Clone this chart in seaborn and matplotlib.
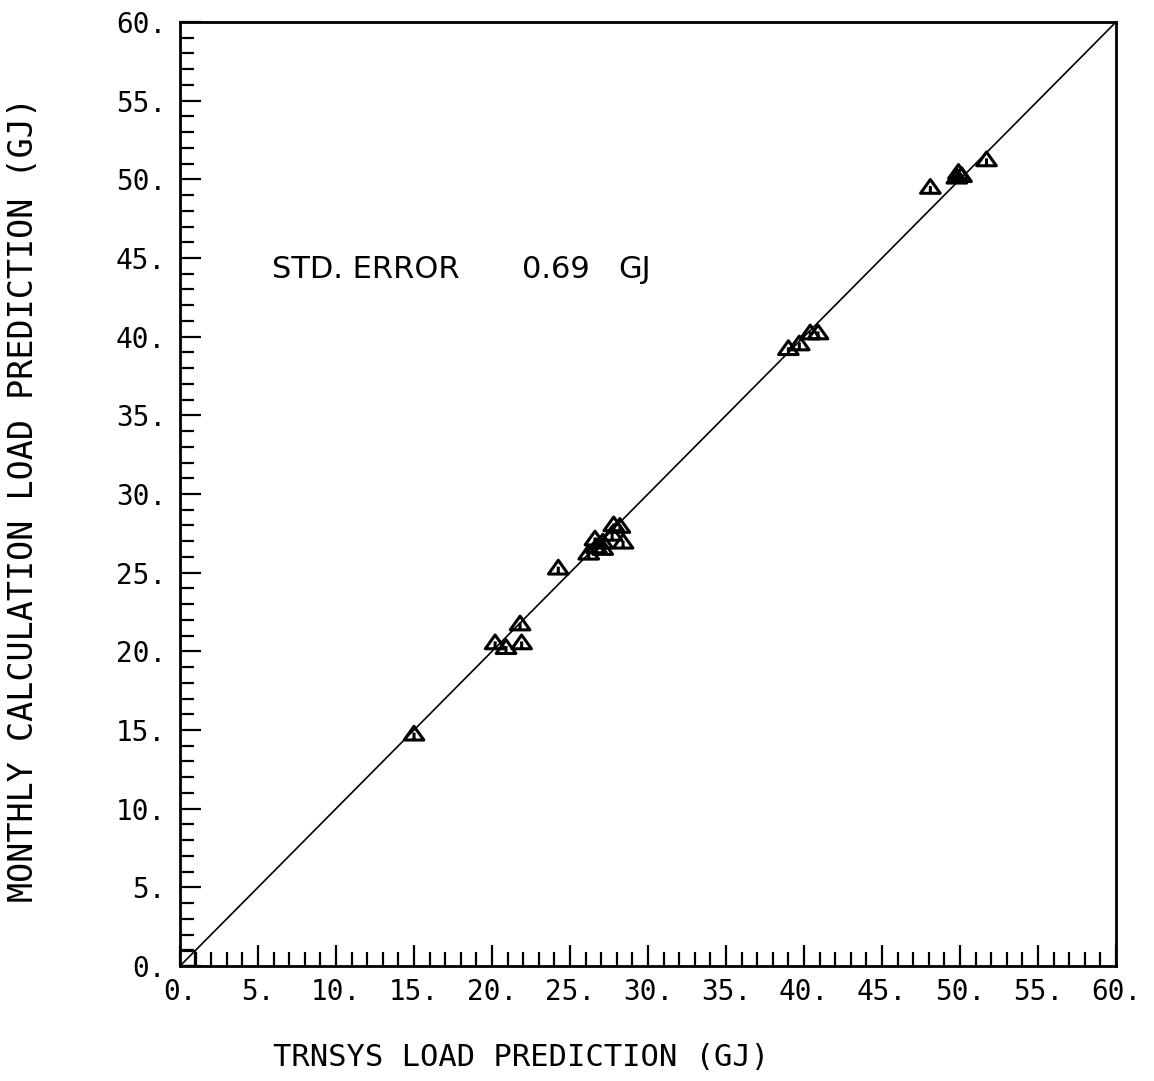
import matplotlib
matplotlib.use("Agg")
import matplotlib.pyplot as plt
import seaborn as sns
from matplotlib.path import Path
from matplotlib.ticker import FixedLocator, FixedFormatter, MultipleLocator

# monthly loads (GJ): TRNSYS vs monthly calculation
trnsys_load = [15.0, 20.2, 20.9, 21.8, 21.9, 24.25,
               26.2, 26.6, 26.7, 27.1, 27.1, 27.7, 27.8, 28.2, 28.4,
               39.0, 39.7, 40.4, 40.9,
               48.1, 49.8, 49.9, 50.1, 51.7]
monthly_load = [14.8, 20.6, 20.3, 21.8, 20.6, 25.35,
                26.3, 27.2, 26.7, 27.0, 26.6, 27.5, 28.1, 28.0, 27.0,
                39.3, 39.6, 40.3, 40.3,
                49.55, 50.2, 50.5, 50.3, 51.3]
origin_x = [0.45]
origin_y = [0.5]
diag = [0, 60]
tick_vals = [0, 5, 10, 15, 20, 25, 30, 35, 40, 45, 50, 55, 60]
tick_labels = ["0.", "5.", "10.", "15.", "20.", "25.", "30.",
               "35.", "40.", "45.", "50.", "55.", "60."]
std_error_words = ["STD. ERROR", "0.69", "GJ"]
std_error_x = [5.9, 21.9, 28.1]

sns.set_style("white")
plt.rcParams['font.family'] = ['DejaVu Sans Mono']
plt.rcParams['text.color'] = 'black'
plt.rcParams['axes.labelcolor'] = 'black'
plt.rcParams['xtick.color'] = 'black'
plt.rcParams['ytick.color'] = 'black'

# triangle with a small stroke inside, like the old plotter symbol
tri = Path([(-1, -0.7), (1, -0.7), (0, 0.7), (-1, -0.7), (0, -0.6), (0, 0.05)],
           [Path.MOVETO, Path.LINETO, Path.LINETO, Path.CLOSEPOLY, Path.MOVETO, Path.LINETO])

fig = plt.figure(figsize=(11.54, 10.81), dpi=100)
ax = fig.add_axes([180 / 1154, 1 - 966 / 1081, 936 / 1154, 944 / 1081])

sns.lineplot(x=diag, y=diag, ax=ax, color='black', linewidth=1.2)
sns.scatterplot(x=trnsys_load, y=monthly_load, ax=ax, marker=tri, s=200,
                facecolor='none', edgecolor='black', linewidth=2.2)
sns.scatterplot(x=origin_x, y=origin_y, ax=ax, marker='s', s=120,
                facecolor='none', edgecolor='black', linewidth=1.6)

ax.set_xlim(0, 60)
ax.set_ylim(0, 60)
for a in (ax.xaxis, ax.yaxis):
    a.set_major_locator(FixedLocator(tick_vals))
    a.set_major_formatter(FixedFormatter(tick_labels))
    a.set_minor_locator(MultipleLocator(1))

ax.tick_params(which='both', direction='in', width=1.6, color='black',
               bottom=True, left=True, top=False, right=False, labelsize=20)
ax.tick_params(which='major', length=15)
ax.tick_params(which='minor', length=10)
ax.tick_params(axis='x', which='major', pad=9)
ax.tick_params(axis='y', which='major', pad=10)
for sp in ax.spines.values():
    sp.set_color('black')
    sp.set_linewidth(2)

ax.set_xlabel("TRNSYS LOAD PREDICTION (GJ)", fontsize=22)
ax.set_ylabel("MONTHLY CALCULATION LOAD PREDICTION (GJ)", fontsize=24)
ax.xaxis.set_label_coords(0.364, -0.082)
ax.yaxis.set_label_coords(-0.150, 0.494)

for word, wx in zip(std_error_words, std_error_x):
    ax.text(wx, 44.25, word, fontsize=22, va='center',
            family=['DejaVu Sans'])

fig.savefig("out.png", dpi=100)
